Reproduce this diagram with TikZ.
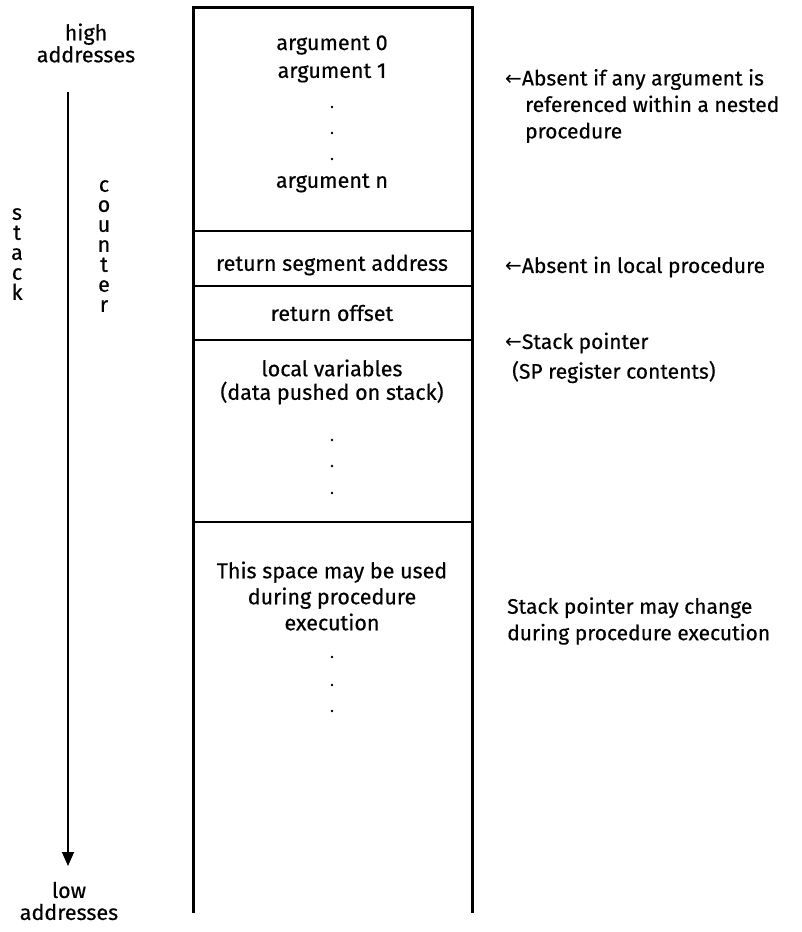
\documentclass[tikz,border=0pt]{standalone}
\usepackage{fontspec}
\setmainfont{Fira Sans}[FakeBold=0.4]
\newfontfamily\symf{DejaVu Sans}
\usetikzlibrary{arrows.meta}
\newcommand{\larr}{{\symf\fontsize{20}{20}\selectfont ←}}
\begin{document}
\begin{tikzpicture}[x=1pt,y=-1pt,
  txt/.style={inner sep=0pt,font=\fontsize{21.5}{26}\selectfont,align=center},
  note/.style={inner sep=0pt,font=\fontsize{21}{26.5}\selectfont,align=left,anchor=west},
  vert/.style={inner sep=0pt,font=\fontsize{21.5}{20}\selectfont,align=center,anchor=north},
  wall/.style={line width=3pt},
  sep/.style={line width=2pt},
  dotmark/.style={circle,fill,inner sep=0pt,minimum size=2.8pt}]
\useasboundingbox (0,0) rectangle (801,932);

% stack frame walls and dividers
\coordinate (tl) at (193,7);
\coordinate (tr) at (472,7);
\coordinate (bl) at (193,913);
\coordinate (br) at (472,913);
\draw[wall] (bl) -- (tl) -- (tr) -- (br);
\foreach \y/\n in {231/d1,286/d2,340/d3,522/d4}{
  \coordinate (\n l) at (193,\y);
  \coordinate (\n r) at (472,\y);
  \draw[sep] (\n l) -- (\n r);
}

% growth direction
\node[txt,font=\fontsize{21.5}{22}\selectfont] (high) at (86,43) {high\\addresses};
\node[txt,font=\fontsize{21.5}{22}\selectfont] (low) at (69,901) {low\\addresses};
\coordinate (atop) at (68,92);
\coordinate (abot) at (68,866);
\draw[line width=1.6pt,-{Triangle[length=14pt,width=12pt]}] (atop) -- (abot);
\node[vert] (stk) at (17,208) {s\\t\\a\\c\\k};
\node[vert] (cnt) at (104,180) {c\\o\\u\\n\\t\\e\\r};

% frame contents
\node[txt] (a0) at (332,45) {argument 0};
\node[txt] (a1) at (332,73) {argument 1};
\node[dotmark] (p1) at (332,107) {};
\node[dotmark] (p2) at (332,133) {};
\node[dotmark] (p3) at (332,159) {};
\node[txt] (an) at (332,183) {argument n};
\node[txt] (rsa) at (332,265) {return segment address};
\node[txt] (ro) at (332,313) {return offset};
\node[txt] (lv) at (332,368) {local variables};
\node[txt] (dp) at (332,393) {(data pushed on stack)};
\node[dotmark] (q1) at (332,440) {};
\node[dotmark] (q2) at (332,466) {};
\node[dotmark] (q3) at (332,493) {};
\node[txt] (sp) at (332,596) {This space may be used\\during procedure\\execution};
\node[dotmark] (r1) at (332,657) {};
\node[dotmark] (r2) at (332,685) {};
\node[dotmark] (r3) at (332,711) {};

% notes
\node[note] (n1) at (505,106) {\larr Absent if any argument is\\\hspace{20pt}referenced within a nested\\\hspace{20pt}procedure};
\node[note] (n2) at (505,267) {\larr Absent in local procedure};
\node[note] (n3) at (505,343) {\larr Stack pointer};
\node[note] (n4) at (512,372) {(SP register contents)};
\node[note] (n5) at (507,621) {Stack pointer may change\\during procedure execution};
\end{tikzpicture}
\end{document}
